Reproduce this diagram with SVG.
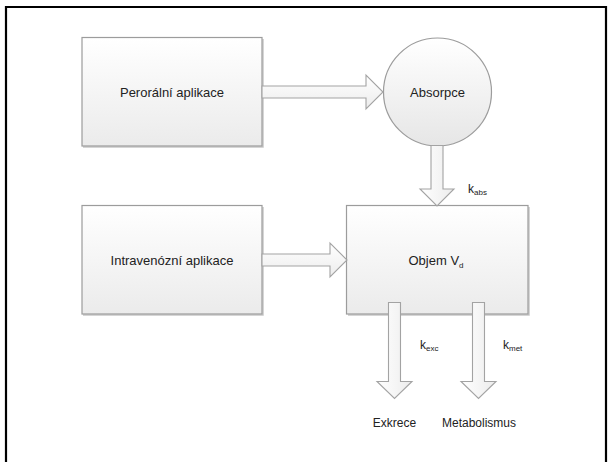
<svg xmlns="http://www.w3.org/2000/svg" width="612" height="462" viewBox="0 0 612 462">
<defs>
<linearGradient id="g" x1="0" y1="0" x2="0" y2="1">
<stop offset="0" stop-color="#ffffff"/>
<stop offset="1" stop-color="#ebebeb"/>
</linearGradient>
<linearGradient id="gc" x1="0" y1="0" x2="0" y2="1">
<stop offset="0" stop-color="#ffffff"/>
<stop offset="1" stop-color="#e6e6e6"/>
</linearGradient>
<linearGradient id="ga" x1="0" y1="0" x2="1" y2="0">
<stop offset="0" stop-color="#ffffff"/>
<stop offset="1" stop-color="#ececec"/>
</linearGradient>
<linearGradient id="gh" x1="0" y1="0" x2="0" y2="1">
<stop offset="0" stop-color="#ffffff"/>
<stop offset="1" stop-color="#ececec"/>
</linearGradient>
</defs>
<style>
.box{fill:url(#g);stroke:#9c9c9c;stroke-width:1.2}
.shadow{fill:none;stroke:#c8c8c8;stroke-width:1.5}
.arr{stroke:#a3a3a3;stroke-width:1.1;stroke-linejoin:miter}
.v{fill:url(#ga)}
.h{fill:url(#gh)}
text{font-family:"Liberation Sans",Arial,sans-serif;fill:#222;}
.lbl{font-size:13px;text-anchor:middle}
.sm{font-size:12px}
.sub{font-size:8px}
</style>
<rect width="612" height="462" fill="#ffffff"/>
<path d="M6,462 V7 H606 V462" fill="none" stroke="#000" stroke-width="2.2"/>

<g id="peroralni">
<polyline class="shadow" points="83,147 263,147 263,39"/>
<rect class="box" x="82" y="37.5" width="180" height="108.5"/>
<text class="lbl" x="172" y="96.5">Perorální aplikace</text>
</g>

<g id="absorpce">
<circle cx="437.5" cy="92" r="54" fill="url(#gc)" stroke="#9c9c9c" stroke-width="1.2"/>
<text class="lbl" x="437.5" y="96.5">Absorpce</text>
</g>

<g id="intravenozni">
<polyline class="shadow" points="83,315 263,315 263,207"/>
<rect class="box" x="82" y="205.5" width="180" height="108.5"/>
<text class="lbl" x="172" y="264.5">Intravenózní aplikace</text>
</g>

<g id="objem">
<polyline class="shadow" points="348,315 529,315 529,207"/>
<rect class="box" x="346.5" y="205.5" width="181.5" height="108.5"/>
<text class="lbl" x="436" y="264.5">Objem V<tspan class="sub" dy="3">d</tspan></text>
</g>

<g id="exkrece">
<text class="sm" x="394.5" y="427" text-anchor="middle">Exkrece</text>
</g>

<g id="metabolismus">
<text class="sm" x="479" y="427" text-anchor="middle">Metabolismus</text>
</g>

<g id="connectors">
<polygon class="arr h" points="262,86 366,86 366,75 383,92 366,109 366,98 262,98"/>
<polygon class="arr h" points="262,254 330,254 330,243 347,260 330,277 330,266 262,266"/>
<polygon class="arr v" points="431,145.5 443,145.5 443,189 454,189 437,206 420,189 431,189"/>
<polygon class="arr v" points="388.5,302.5 400.5,302.5 400.5,381.5 412,381.5 394.5,398.5 377,381.5 388.5,381.5"/>
<polygon class="arr v" points="472.5,302.5 484.5,302.5 484.5,381.5 496,381.5 478.5,398.5 461,381.5 472.5,381.5"/>
<text class="sm" x="468" y="193">k<tspan class="sub" dy="2">abs</tspan></text>
<text class="sm" x="420" y="349">k<tspan class="sub" dy="2">exc</tspan></text>
<text class="sm" x="503" y="349">k<tspan class="sub" dy="2">met</tspan></text>
</g>
</svg>
